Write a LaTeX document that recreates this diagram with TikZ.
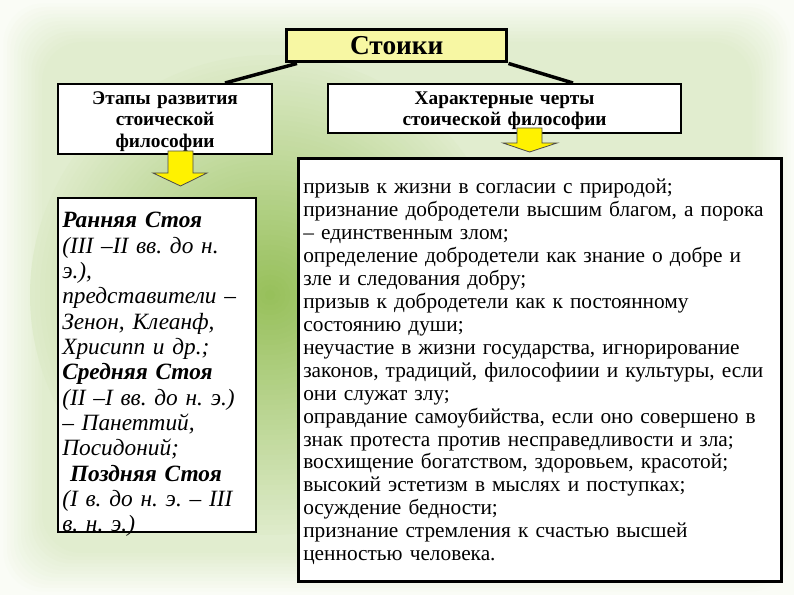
\documentclass[tikz,border=0pt]{standalone}
\usepackage{fontspec}
\setmainfont{Liberation Serif}
\usetikzlibrary{positioning}
\definecolor{glowgreen}{HTML}{96BF59}
\definecolor{paper}{HTML}{FAFCF6}
\definecolor{titleyellow}{HTML}{F7F7A3}

\begin{document}
\begin{tikzpicture}[x=0.75pt,y=-0.75pt,
  titlebox/.style={draw, line width=2.6pt, fill=titleyellow, anchor=north west,
    font=\fontsize{20.5}{23}\selectfont\bfseries},
  headbox/.style={draw, line width=1.6pt, fill=white, anchor=north west, inner sep=2pt,
    align=center, font=\fontsize{14.5}{16.3}\selectfont\bfseries},
  textbox/.style={draw, fill=white, anchor=north west, inner sep=3.5pt, align=left},
  link/.style={line width=2.6pt},
  yarrow/.style={fill=yellow, draw=black!70, line width=0.6pt}]
\useasboundingbox (0,0) rectangle (794,595);
% background glow
\fill[paper] (0,0) rectangle (794,595);
\foreach \i in {1,...,12} {
  \pgfmathsetmacro{\p}{\i*2.1}
  \fill[glowgreen!\p!paper, rounded corners=30pt] ({\i*3.5},{\i*3.5}) rectangle ({794-\i*3.5},{595-\i*3.5});
}
\coordinate (glowc) at (270,295);
\foreach \r in {240,235,...,5} {
  \pgfmathsetmacro{\p}{100-0.3*\r}
  \fill[glowgreen!\p!paper] (glowc) circle (\r);
}

% boxes
\node[titlebox, minimum width=165pt, minimum height=24pt] (stoics) at (285,28) {Стоики};
\node[headbox, minimum width=160.5pt, minimum height=50.25pt, text width=155pt] (stages) at (57,83)
  {\rule{0pt}{13pt}Этапы развития\\стоической\\философии};
\node[headbox, minimum width=264.75pt, minimum height=33pt, text width=258pt] (traits) at (327,83)
  {\rule{0pt}{13pt}Характерные черты\\стоической философии};
\node[textbox, line width=1.6pt, minimum width=148.5pt, minimum height=250.5pt] (periods) at (57,197) {};
\node[anchor=north west, inner sep=0pt, text width=142pt, align=left,
  font=\fontsize{17.5}{19}\selectfont\itshape\frenchspacing] (periodsText) at (62,212)
  {\textbf{Ранняя Стоя}\\
   (III –II вв. до н.\\
   э.),\\
   представители –\\
   Зенон, Клеанф,\\
   Хрисипп и др.;\\
   \textbf{Средняя Стоя}\\
   (II –I вв. до н. э.)\\
   – Панеттий,\\
   Посидоний;\\
   \ \textbf{Поздняя Стоя}\\
   (I в. до н. э. – III\\
   в. н. э.)};
\node[textbox, line width=2.2pt, minimum width=362.25pt, minimum height=317.25pt, text width=355pt,
  font=\fontsize{16}{17.2}\selectfont\frenchspacing] (features) at (297,157)
  {\rule{0pt}{14pt}призыв к жизни в согласии с природой;\\
   признание добродетели высшим благом, а порока\\
   – единственным злом;\\
   определение добродетели как знание о добре и\\
   зле и следования добру;\\
   призыв к добродетели как к постоянному\\
   состоянию души;\\
   неучастие в жизни государства, игнорирование\\
   законов, традиций, философиии и культуры, если\\
   они служат злу;\\
   оправдание самоубийства, если оно совершено в\\
   знак протеста против несправедливости и зла;\\
   восхищение богатством, здоровьем, красотой;\\
   высокий эстетизм в мыслях и поступках;\\
   осуждение бедности;\\
   признание стремления к счастью высшей\\
   ценностью человека.};

% links from the title
\coordinate (stagesTop) at (225,83);
\coordinate (traitsTop) at (573,83);
\draw[link] ([xshift=9pt]stoics.south west) -- (stagesTop);
\draw[link] (stoics.south east) -- (traitsTop);

% yellow arrows
\filldraw[yarrow] (168,151) -- (193,151) -- (193,173) -- (207,173) -- (180.5,186)
  -- (153,173) -- (168,173) -- cycle;
\filldraw[yarrow] (517,128) -- (542,128) -- (542,143) -- (557,143) -- (529.5,152)
  -- (503,143) -- (517,143) -- cycle;
\end{tikzpicture}
\end{document}
